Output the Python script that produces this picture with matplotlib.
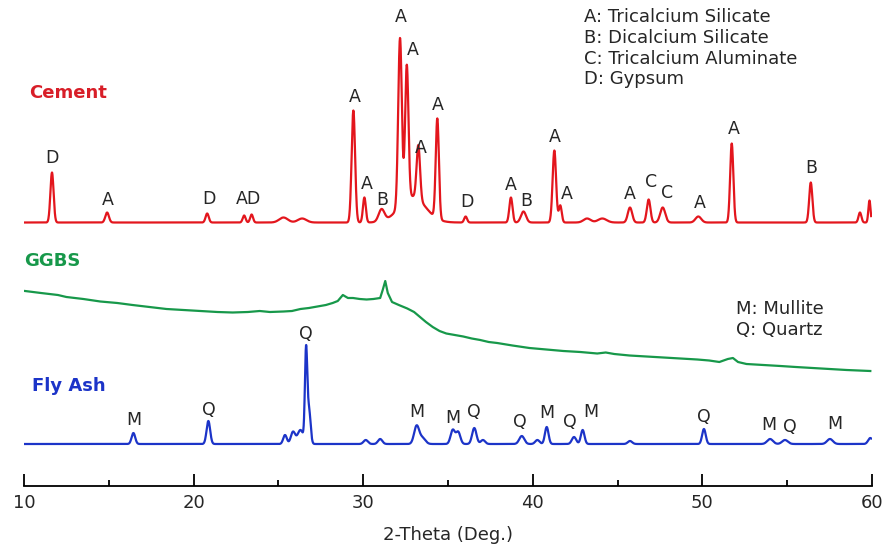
import numpy as np
import matplotlib
matplotlib.use('Agg')
import matplotlib.pyplot as plt

plt.rcParams['font.family'] = ['DejaVu Sans']

# peak lists: 2-theta position (deg), height above baseline, FWHM (deg)
cement_pos = [11.65, 14.9, 20.8, 22.98, 23.42, 25.3, 26.4, 29.42, 30.07, 31.08,
              32.17, 32.57, 32.9, 33.25, 34.37, 36.04, 38.71, 39.45, 41.27, 41.62,
              43.2, 44.1, 45.73, 46.83, 47.66, 49.76, 51.73, 56.39, 59.29, 59.85]
cement_h = [50, 10, 9, 7, 8, 5, 4, 112, 25, 12,
            168, 134, 26, 54, 100, 6, 25, 11, 72, 17,
            4, 4, 15, 23, 15, 6, 79, 40, 10, 22]
cement_w = [0.22, 0.25, 0.22, 0.2, 0.2, 0.6, 0.6, 0.24, 0.2, 0.4,
            0.25, 0.23, 1.8, 0.24, 0.22, 0.2, 0.22, 0.35, 0.24, 0.2,
            0.5, 0.6, 0.3, 0.25, 0.35, 0.4, 0.22, 0.22, 0.2, 0.15]
cement_base = 263.5

fly_pos = [16.45, 20.87, 25.39, 25.86, 26.3, 26.63, 26.8, 30.15, 31.0, 33.15,
           33.5, 35.28, 35.6, 36.55, 37.06, 39.35, 40.27, 40.82, 42.43, 42.94,
           45.73, 50.09, 53.99, 54.87, 57.52, 59.9]
fly_h = [11, 23, 9, 12, 14, 90, 35, 4, 5, 18,
         6, 14, 12, 16, 4, 8, 4, 17, 7, 14,
         3, 15, 5, 4, 5, 6]
fly_w = [0.25, 0.25, 0.25, 0.3, 0.4, 0.16, 0.22, 0.3, 0.3, 0.35,
         0.4, 0.3, 0.3, 0.3, 0.3, 0.35, 0.3, 0.25, 0.3, 0.25,
         0.3, 0.25, 0.4, 0.4, 0.4, 0.3]
fly_base = 42

# GGBS is mostly amorphous: traced pattern
ggbs_x = [10.06, 11.0, 12.0, 12.5, 13.5, 14.5, 15.5, 16.4, 17.4, 18.4, 19.4, 20.4,
          21.4, 22.3, 23.2, 23.9, 24.5, 25.3, 25.8, 26.3, 26.8, 27.3, 27.8, 28.2,
          28.5, 28.8, 29.1, 29.4, 29.8, 30.2, 30.6, 31.0, 31.15, 31.3, 31.45, 31.7,
          32.1, 32.6, 33.0, 33.35, 33.7, 34.1, 34.5, 34.9, 35.4, 35.9, 36.4, 36.9,
          37.4, 37.9, 38.8, 39.8, 40.8, 41.8, 42.8, 43.8, 44.3, 44.8, 45.7, 46.7,
          47.7, 48.7, 49.7, 50.4, 51.0, 51.5, 51.8, 52.1, 52.6, 53.6, 54.6, 55.5,
          56.5, 57.5, 58.5, 59.2, 59.9]
ggbs_y = [195, 193, 191, 189, 187, 184.5, 183, 181, 179, 177, 176, 175,
          174, 173.5, 174, 175, 174, 174.5, 175, 177, 178, 179.5, 181, 183,
          185, 191, 188, 188, 187, 186.5, 187, 188, 196, 205, 193, 184,
          181, 177.5, 174, 169, 164, 159, 155, 152.5, 151, 149.5, 147.5, 146,
          144, 143, 140.5, 138, 136.5, 135, 134, 132.5, 133.5, 132, 130.5, 129.5,
          128.5, 127.5, 126.5, 125.5, 124, 127, 128, 124, 122, 121, 120, 119,
          118, 117, 116, 115.5, 115]


def profile(x, pos, h, w, base):
    y = np.full_like(x, float(base))
    for c, a, f in zip(pos, h, w):
        y += a * np.exp(-4 * np.log(2) * ((x - c) / f) ** 2)
    return y


two_theta = np.arange(10.06, 59.96, 0.01)
cement = profile(two_theta, cement_pos, cement_h, cement_w, cement_base)
fly_ash = profile(two_theta, fly_pos, fly_h, fly_w, fly_base)

# phase labels above peaks (x deg, y)
cement_labels = [(11.65, 328, 'D'), (14.95, 286, 'A'), (20.9, 287, 'D'),
                 (23.25, 287, 'AD'), (29.5, 389, 'A'), (30.2, 302, 'A'),
                 (31.1, 286, 'B'), (32.2, 469, 'A'), (32.9, 436, 'A'),
                 (33.4, 338, 'A'), (34.4, 381, 'A'), (36.1, 284, 'D'),
                 (38.7, 301, 'A'), (39.6, 285, 'B'), (41.3, 349, 'A'),
                 (42.0, 292, 'A'), (45.7, 292, 'A'), (46.95, 304, 'C'),
                 (47.9, 293, 'C'), (49.85, 283, 'A'), (51.85, 357, 'A'),
                 (56.4, 318, 'B')]
fly_labels = [(16.45, 66, 'M'), (20.9, 76, 'Q'), (26.63, 152, 'Q'),
              (33.15, 74, 'M'), (35.3, 68, 'M'), (36.55, 74, 'Q'),
              (39.25, 64, 'Q'), (40.85, 73, 'M'), (42.2, 64, 'Q'),
              (43.4, 74, 'M'), (50.1, 69, 'Q'), (53.9, 61, 'M'),
              (55.15, 59, 'Q'), (57.8, 62, 'M')]

red = '#e3161d'
green = '#17984a'
blue = '#1c34c8'
ink = '#262626'

fig = plt.figure(figsize=(8.83, 5.44), dpi=100)
ax = fig.add_axes([24 / 883, 58 / 544, 848 / 883, 486 / 544])

ax.plot(two_theta, cement, color=red, lw=1.6)
ax.plot(ggbs_x, ggbs_y, color=green, lw=1.6)
ax.plot(two_theta, fly_ash, color=blue, lw=1.6)

for x, y, s in cement_labels + fly_labels:
    ax.text(x, y, s, ha='center', va='center', fontsize=12.5, color=ink)

ax.text(10.3, 393, 'Cement', fontsize=13, fontweight='bold', color='#d81e28',
        va='center', ha='left')
ax.text(10.0, 225, 'GGBS', fontsize=13, fontweight='bold', color=green,
        va='center', ha='left')
ax.text(10.5, 100, 'Fly Ash', fontsize=13, fontweight='bold', color=blue,
        va='center', ha='left')

ax.text(43.0, 478, 'A: Tricalcium Silicate\nB: Dicalcium Silicate\n'
        'C: Tricalcium Aluminate\nD: Gypsum', fontsize=13, color=ink,
        va='top', ha='left', linespacing=1.2)
ax.text(52.0, 186, 'M: Mullite\nQ: Quartz', fontsize=13, color=ink,
        va='top', ha='left', linespacing=1.2)

ax.set_xlim(10, 60)
ax.set_ylim(0, 486)
for side in ['left', 'right', 'top']:
    ax.spines[side].set_visible(False)
ax.spines['bottom'].set_linewidth(1.3)
ax.set_yticks([])
ax.set_xticks(np.arange(10, 61, 10))
ax.set_xticks(np.arange(15, 60, 10), minor=True)
ax.tick_params(axis='x', which='major', direction='in', length=9, width=1.3,
               labelsize=13, pad=6, labelcolor=ink)
ax.tick_params(axis='x', which='minor', direction='in', length=4, width=1.3)
ax.set_xlabel('2-Theta (Deg.)', fontsize=13, color=ink, labelpad=10)

fig.savefig('out.png', dpi=100)
